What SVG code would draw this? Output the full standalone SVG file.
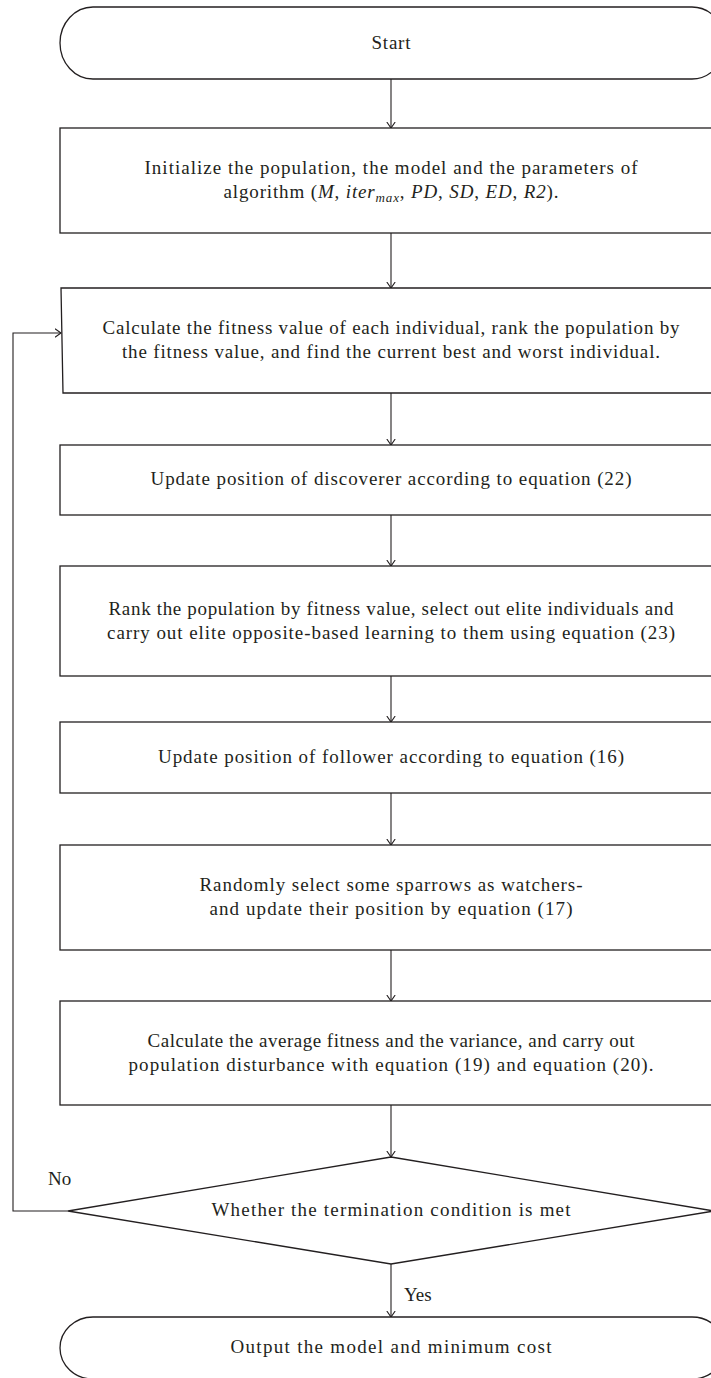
<svg xmlns="http://www.w3.org/2000/svg" width="711" height="1378" viewBox="0 0 711 1378">
<style>
.box{fill:#fff;stroke:#231f20;stroke-width:1.3}
.t{font-family:"Liberation Serif","Times New Roman",serif;font-size:19px;fill:#231f20;text-anchor:middle}
.l{font-family:"Liberation Serif","Times New Roman",serif;font-size:19px;fill:#231f20}
.i{font-style:italic}
.c{fill:none;stroke:#231f20;stroke-width:1.1}
</style>
<defs>
<marker id="arr" viewBox="0 0 7 10" refX="6.5" refY="5" markerWidth="7" markerHeight="10" markerUnits="userSpaceOnUse" orient="auto">
<path d="M0.5,0.8 L6.5,5 L0.5,9.2" fill="none" stroke="#231f20" stroke-width="1.1"/>
</marker>
</defs>
<rect width="711" height="1378" fill="#fff"/>
<g id="connectors">
<line class="c" x1="391" y1="79" x2="391" y2="128" marker-end="url(#arr)"/>
<line class="c" x1="391" y1="233" x2="391" y2="288" marker-end="url(#arr)"/>
<line class="c" x1="391" y1="393" x2="391" y2="445" marker-end="url(#arr)"/>
<line class="c" x1="391" y1="515" x2="391" y2="566" marker-end="url(#arr)"/>
<line class="c" x1="391" y1="676" x2="391" y2="722" marker-end="url(#arr)"/>
<line class="c" x1="391" y1="793" x2="391" y2="845" marker-end="url(#arr)"/>
<line class="c" x1="391" y1="950" x2="391" y2="1001" marker-end="url(#arr)"/>
<line class="c" x1="391" y1="1105" x2="391" y2="1157" marker-end="url(#arr)"/>
<line class="c" x1="391" y1="1264" x2="391" y2="1317" marker-end="url(#arr)"/>
<path class="c" d="M68,1211 H13 V333 H61" marker-end="url(#arr)"/>
<text class="l" x="48" y="1185">No</text>
<text class="l" x="404" y="1301">Yes</text>
</g>
<g id="start">
<path class="box" d="M93,7 H692 A33,36 0 0 1 692,79 H93 A33,36 0 0 1 93,7 Z"/>
<text class="t" x="391" y="49" textLength="39" lengthAdjust="spacing">Start</text>
</g>
<g id="init">
<rect class="box" x="60" y="128" width="665" height="105"/>
<text class="t" x="391" y="174" textLength="493" lengthAdjust="spacing">Initialize the population, the model and the parameters of</text>
<text class="t" x="391" y="198" textLength="335" lengthAdjust="spacing">algorithm (<tspan class="i">M</tspan>, <tspan class="i">iter</tspan><tspan class="i" font-size="13" dy="4">max</tspan><tspan dy="-4">, </tspan><tspan class="i">PD</tspan>, <tspan class="i">SD</tspan>, <tspan class="i">ED</tspan>, <tspan class="i">R2</tspan>).</text>
</g>
<g id="calc">
<path class="box" d="M61,288 H725 V393 H63 Z"/>
<text class="t" x="391" y="334" textLength="577" lengthAdjust="spacing">Calculate the fitness value of each individual, rank the population by</text>
<text class="t" x="391" y="358" textLength="538" lengthAdjust="spacing">the fitness value, and find the current best and worst individual.</text>
</g>
<g id="discoverer">
<rect class="box" x="60" y="445" width="665" height="70"/>
<text class="t" x="391" y="485" textLength="481" lengthAdjust="spacing">Update position of discoverer according to equation (22)</text>
</g>
<g id="elite">
<rect class="box" x="60" y="566" width="665" height="110"/>
<text class="t" x="391" y="615" textLength="565" lengthAdjust="spacing">Rank the population by fitness value, select out elite individuals and</text>
<text class="t" x="391" y="639" textLength="568" lengthAdjust="spacing">carry out elite opposite-based learning to them using equation (23)</text>
</g>
<g id="follower">
<rect class="box" x="60" y="722" width="665" height="71"/>
<text class="t" x="391" y="763" textLength="466" lengthAdjust="spacing">Update position of follower according to equation (16)</text>
</g>
<g id="watchers">
<rect class="box" x="60" y="845" width="665" height="105"/>
<text class="t" x="391" y="891" textLength="383" lengthAdjust="spacing">Randomly select some sparrows as watchers-</text>
<text class="t" x="391" y="915" textLength="363" lengthAdjust="spacing">and update their position by equation (17)</text>
</g>
<g id="disturb">
<rect class="box" x="60" y="1001" width="665" height="104"/>
<text class="t" x="391" y="1047" textLength="487" lengthAdjust="spacing">Calculate the average fitness and the variance, and carry out</text>
<text class="t" x="391" y="1071" textLength="525" lengthAdjust="spacing">population disturbance with equation (19) and equation (20).</text>
</g>
<g id="decision">
<path class="box" d="M391,1157 L714,1211 L391,1264 L68,1211 Z"/>
<text class="t" x="391" y="1216" textLength="359" lengthAdjust="spacing">Whether the termination condition is met</text>
</g>
<g id="output">
<path class="box" d="M93,1317 H692 A33,31 0 0 1 692,1379 H93 A33,31 0 0 1 93,1317 Z"/>
<text class="t" x="391" y="1353" textLength="321" lengthAdjust="spacing">Output the model and minimum cost</text>
</g>
</svg>
